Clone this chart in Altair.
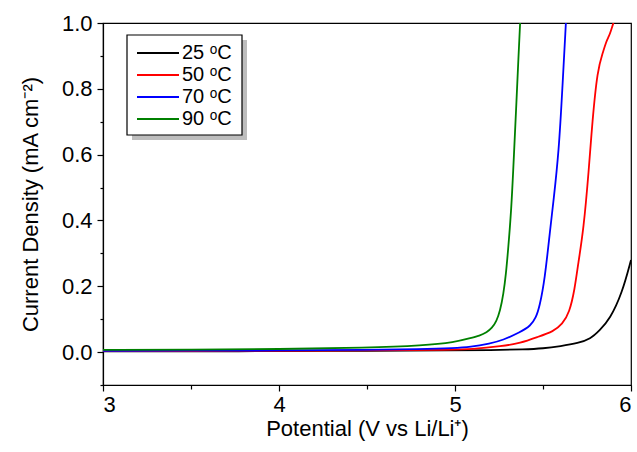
import altair as alt
import pandas as pd

# Linear sweep voltammetry curves, one per temperature
temps = ["25 ᵒC", "50 ᵒC", "70 ᵒC", "90 ᵒC"]
colors = ["#000000", "#ff0000", "#0000ff", "#008000"]

potential_25 = [3.0, 3.5, 4.0, 4.5, 5.0, 5.2, 5.4, 5.5, 5.6, 5.7, 5.77, 5.82, 5.88, 5.95, 6.0]
current_25 = [0.002, 0.002, 0.003, 0.004, 0.005, 0.006, 0.008, 0.011, 0.018, 0.027, 0.040, 0.065, 0.10, 0.18, 0.28]

potential_50 = [3.0, 3.5, 4.0, 4.5, 5.0, 5.085, 5.27, 5.37, 5.47, 5.56, 5.61, 5.65, 5.68, 5.70,
                5.73, 5.76, 5.78, 5.81, 5.84, 5.86, 5.875, 5.885, 5.90]
current_50 = [0.003, 0.003, 0.004, 0.005, 0.007, 0.008, 0.018, 0.027, 0.046, 0.063, 0.085, 0.12, 0.19, 0.27,
              0.37, 0.55, 0.70, 0.86, 0.91, 0.945, 0.96, 0.975, 1.0]

potential_70 = [3.0, 3.5, 4.0, 4.5, 4.8, 5.0, 5.085, 5.2, 5.27, 5.37, 5.43, 5.46, 5.48, 5.51,
                5.54, 5.56, 5.59, 5.61, 5.63]
current_70 = [0.004, 0.004, 0.005, 0.007, 0.009, 0.012, 0.015, 0.026, 0.036, 0.060, 0.080, 0.105, 0.137, 0.22,
              0.37, 0.46, 0.61, 0.80, 1.0]

potential_90 = [3.0, 3.5, 4.0, 4.5, 4.82, 5.0, 5.085, 5.14, 5.18, 5.21, 5.235, 5.256, 5.275, 5.29,
                5.30, 5.32, 5.335, 5.35, 5.36, 5.37]
current_90 = [0.007, 0.007, 0.009, 0.013, 0.020, 0.030, 0.042, 0.050, 0.060, 0.073, 0.093, 0.125, 0.175, 0.24,
              0.30, 0.43, 0.60, 0.77, 0.89, 1.0]

x_major = [3, 4, 5, 6]
x_minor = [3.5, 4.5, 5.5]
y_major = [0.0, 0.2, 0.4, 0.6, 0.8, 1.0]
y_minor = [-0.1, 0.1, 0.3, 0.5, 0.7, 0.9]

rows = []
for temp, xs, ys in zip(temps,
                        [potential_25, potential_50, potential_70, potential_90],
                        [current_25, current_50, current_70, current_90]):
    for i, (x, y) in enumerate(zip(xs, ys)):
        rows.append({"temp": temp, "order": i, "potential": x, "current": y})
df = pd.DataFrame(rows)

FONT = "Liberation Sans"
FS = 22
x_scale = alt.Scale(domain=[3, 6], nice=False, zero=False)
y_scale = alt.Scale(domain=[-0.1, 1.0], nice=False, zero=False)

# Legend frame with a soft drop shadow
frame_df = pd.DataFrame({"k": [0]})
shadow = alt.Chart(frame_df).mark_rect(color="#bdbdbd").encode(
    x=alt.value(29), x2=alt.value(144), y=alt.value(17), y2=alt.value(117)
)
box = alt.Chart(frame_df).mark_rect(fill="white", stroke="black", strokeWidth=1.2).encode(
    x=alt.value(24), x2=alt.value(139), y=alt.value(12), y2=alt.value(112)
)

lines = alt.Chart(df).mark_line(strokeWidth=1.8, interpolate="basis", clip=True).encode(
    x=alt.X("potential:Q", scale=x_scale,
            axis=alt.Axis(values=x_major, format="d", title="Potential (V vs Li/Li⁺)",
                          tickSize=6, orient="bottom", labelPadding=3, titlePadding=3)),
    y=alt.Y("current:Q", scale=y_scale,
            axis=alt.Axis(values=y_major, format=".1f", title="Current Density (mA cm⁻²)",
                          tickSize=6, orient="left", labelPadding=5, titlePadding=19)),
    color=alt.Color("temp:N", title=None,
                    scale=alt.Scale(domain=temps, range=colors),
                    legend=alt.Legend(orient="none", legendX=32, legendY=20,
                                      symbolType="M-3,0H3", symbolSize=196,
                                      symbolStrokeWidth=1.8, symbolOffset=13,
                                      labelOffset=14, labelFont=FONT, labelFontSize=20,
                                      labelColor="black", rowPadding=2, padding=0)),
    order="order:Q",
)

# Minor tick marks along both axes
minor = alt.Chart(df).mark_point(opacity=0).encode(
    x=alt.X("potential:Q", scale=x_scale,
            axis=alt.Axis(values=x_minor, labels=False, tickSize=4, domain=False,
                          title="", orient="bottom")),
    y=alt.Y("current:Q", scale=y_scale,
            axis=alt.Axis(values=y_minor, labels=False, tickSize=3, domain=False,
                          title="", orient="left")),
)

chart = alt.layer(shadow, box, lines, minor).resolve_axis(
    x="independent", y="independent"
).properties(
    width=528, height=362,
    autosize=alt.AutoSizeParams(type="none"),
    padding={"left": 103, "top": 23, "right": 6, "bottom": 67},
).configure_view(
    stroke="black", strokeWidth=1.2
).configure_axis(
    grid=False, labelFont=FONT, titleFont=FONT, labelFontSize=FS, titleFontSize=FS,
    labelColor="black", titleColor="black", titleFontWeight="normal",
    domainColor="black", tickColor="black", domainWidth=1.2, tickWidth=1.2,
)

chart.save("out.html", embed_options={"renderer": "svg", "actions": False})
